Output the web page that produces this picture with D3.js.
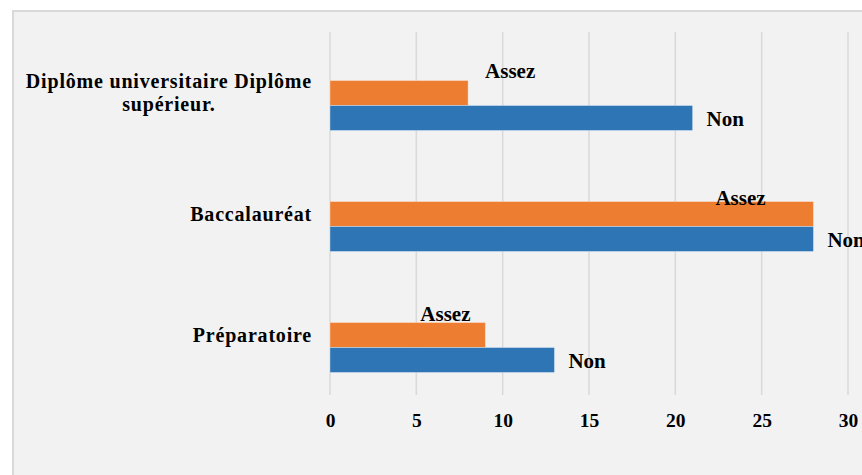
<!DOCTYPE html>
<html>
<head>
<meta charset="utf-8">
<script src="https://cdn.jsdelivr.net/npm/d3@7"></script>
<style>
  html, body { margin: 0; padding: 0; background: #ffffff; }
  svg { display: block; }
</style>
</head>
<body>
<svg id="chart" width="862" height="475"></svg>
<script>
// ---- data ----
const categories = ["Diplôme universitaire Diplôme|supérieur.", "Baccalauréat", "Préparatoire"];
const seriesNames = ["Assez", "Non"];
const assezValues = [8, 28, 9];
const nonValues = [21, 28, 13];
const xTicks = [0, 5, 10, 15, 20, 25, 30];
// manual label offsets (as placed in the original)
const assezLabelDx = [42, -73, -40];
const assezLabelDy = [-3, 3, -2];

// ---- layout ----
const W = 862, H = 475;
const svg = d3.select("#chart");
const font = "'Liberation Serif', 'Times New Roman', serif";
const colors = { Assez: "#ED7D31", Non: "#2E75B6" };

// panel
svg.append("rect")
  .attr("x", 13).attr("y", 11)
  .attr("width", W + 20).attr("height", H + 20)
  .attr("fill", "#f2f2f2")
  .attr("stroke", "#d9d9d9")
  .attr("stroke-width", 2);

const x = d3.scaleLinear().domain([0, 30]).range([330, 848]);
const y = d3.scaleBand().domain(categories).range([32, 395]);
const ySub = d3.scaleBand().domain(seriesNames).range([0, 50]);
const barOffset = -12;

// gridlines
svg.append("g").selectAll("line").data(xTicks).join("line")
  .attr("x1", d => x(d)).attr("x2", d => x(d))
  .attr("y1", 32).attr("y2", 395)
  .attr("stroke", "#d9d9d9").attr("stroke-width", 1.5);

// x tick labels via axis
const xAxis = d3.axisBottom(x).tickValues(xTicks).tickSize(0).tickPadding(0);
const gx = svg.append("g").attr("transform", "translate(0,412)").call(xAxis);
gx.select(".domain").remove();
gx.selectAll("text")
  .attr("dy", 0).attr("y", 15)
  .attr("font-family", font).attr("font-weight", "bold")
  .attr("font-size", 19.5).attr("fill", "#000");

// bars
const rows = categories.map((c, i) => ({ c, i, Assez: assezValues[i], Non: nonValues[i] }));
const barY = (c, s) => y(c) + y.bandwidth() / 2 + barOffset + ySub(s);

seriesNames.forEach(s => {
  svg.append("g").selectAll("rect").data(rows).join("rect")
    .attr("x", x(0))
    .attr("y", d => barY(d.c, s))
    .attr("width", d => x(d[s]) - x(0))
    .attr("height", ySub.bandwidth())
    .attr("fill", colors[s])
    .attr("stroke", "#ffffff").attr("stroke-opacity", 0.35).attr("stroke-width", 1);
});

// data labels
svg.append("g").selectAll("text").data(rows).join("text")
  .attr("x", d => x(d.Non) + 14)
  .attr("y", d => barY(d.c, "Non") + ySub.bandwidth() / 2 + 8)
  .attr("font-family", font).attr("font-weight", "bold")
  .attr("font-size", 21).attr("fill", "#000")
  .text("Non");

svg.append("g").selectAll("text").data(rows).join("text")
  .attr("x", d => x(d.Assez) + assezLabelDx[d.i])
  .attr("y", d => barY(d.c, "Assez") + assezLabelDy[d.i])
  .attr("text-anchor", "middle")
  .attr("font-family", font).attr("font-weight", "bold")
  .attr("font-size", 21).attr("fill", "#000")
  .text("Assez");

// category labels
const labelRight = 312;
const lineH = 23;
categories.forEach(c => {
  const lines = c.split("|");
  const t = svg.append("text")
    .attr("font-family", font).attr("font-weight", "bold")
    .attr("font-size", 20).attr("letter-spacing", 0.8).attr("fill", "#000")
    .attr("text-anchor", "middle");
  const cy = y(c) + y.bandwidth() / 2 + 7;
  const spans = lines.map((l, k) => t.append("tspan")
    .attr("y", cy + (k - (lines.length - 1) / 2) * lineH)
    .text(l));
  const maxW = d3.max(spans, s => s.node().getComputedTextLength());
  spans.forEach(s => s.attr("x", labelRight - maxW / 2));
});
</script>
</body>
</html>
